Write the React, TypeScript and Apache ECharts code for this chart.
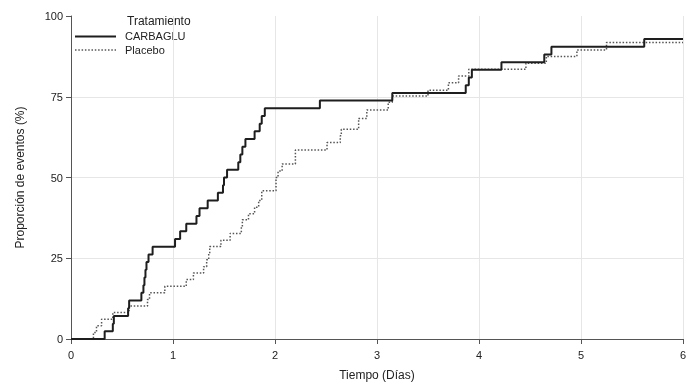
import React, { useEffect, useRef } from "react";
import * as echarts from "echarts";

const carbagluTimes = [0, 0.33, 0.41, 0.42, 0.56, 0.57, 0.69, 0.71, 0.72, 0.73, 0.74, 0.76, 0.8, 1.02, 1.07, 1.13, 1.23, 1.26, 1.34, 1.44, 1.49, 1.5, 1.53, 1.64, 1.66, 1.68, 1.71, 1.8, 1.85, 1.87, 1.9, 2.44, 3.15, 3.87, 3.9, 3.93, 4.22, 4.64, 4.71, 5.62, 6.0];
const carbagluValues = [0, 2.38, 4.76, 7.14, 9.52, 11.9, 14.29, 16.67, 19.05, 21.43, 23.81, 26.19, 28.57, 30.95, 33.33, 35.71, 38.1, 40.48, 42.86, 45.24, 47.62, 50.0, 52.38, 54.76, 57.14, 59.52, 61.9, 64.29, 66.67, 69.05, 71.43, 73.81, 76.19, 78.57, 80.95, 83.33, 85.71, 88.1, 90.48, 92.86, 92.86];

const placeboTimes = [0, 0.22, 0.25, 0.3, 0.41, 0.57, 0.75, 0.77, 0.92, 1.13, 1.2, 1.3, 1.33, 1.35, 1.36, 1.47, 1.56, 1.67, 1.68, 1.74, 1.8, 1.84, 1.87, 2.01, 2.03, 2.07, 2.2, 2.51, 2.64, 2.65, 2.82, 2.9, 3.11, 3.15, 3.5, 3.7, 3.8, 3.9, 4.46, 4.66, 4.96, 5.25, 6.0];
const placeboValues = [0, 2.0, 4.1, 6.1, 8.2, 10.2, 12.2, 14.3, 16.3, 18.4, 20.4, 22.4, 24.5, 26.5, 28.6, 30.6, 32.7, 34.7, 36.9, 38.8, 40.8, 42.9, 45.9, 50.0, 52.0, 54.2, 58.5, 60.8, 62.9, 64.9, 68.3, 70.9, 73.3, 75.2, 77.0, 79.3, 81.4, 83.5, 85.4, 87.5, 89.5, 91.8, 91.8];

const xTicks = [0, 1, 2, 3, 4, 5, 6];
const yTicks = [0, 25, 50, 75, 100];

const seriesNames = ["CARBAGLU", "Placebo"];
const legendTitle = "Tratamiento";
const xAxisName = "Tiempo (Días)";
const yAxisName = "Proporción de eventos (%)";

const FONT = "Liberation Sans, Arial, sans-serif";
const SOLID_COLOR = "#1e1e1e";
const DOT_COLOR = "#555";
const DOT_DASH = [1.5, 1.8];

export default function App() {
  const ref = useRef<HTMLDivElement>(null);
  useEffect(() => {
    if (!ref.current) return;
    const chart = echarts.init(ref.current, null, { renderer: "svg" });
    const toPairs = (t: number[], v: number[]) => t.map((x, i) => [x, v[i]]);
    chart.setOption({
      animation: false,
      textStyle: { fontFamily: FONT },
      graphic: [
        {
          type: "text",
          left: 127,
          top: 15,
          style: { text: legendTitle, font: `12px ${FONT}`, fill: "#222" },
        },
        {
          type: "line",
          shape: { x1: 75, y1: 36.5, x2: 116, y2: 36.5 },
          style: { stroke: SOLID_COLOR, lineWidth: 2 },
        },
        {
          type: "text",
          left: 125,
          top: 30,
          style: { text: seriesNames[0], font: `11px ${FONT}`, fill: "#222" },
        },
        {
          type: "line",
          shape: { x1: 75, y1: 50, x2: 116, y2: 50 },
          style: { stroke: DOT_COLOR, lineWidth: 1.5, lineDash: DOT_DASH },
        },
        {
          type: "text",
          left: 125,
          top: 44,
          style: { text: seriesNames[1], font: `11px ${FONT}`, fill: "#222" },
        },
      ],
      grid: { left: 71, right: 13, top: 16, bottom: 42 },
      xAxis: {
        type: "value",
        min: xTicks[0],
        max: xTicks[xTicks.length - 1],
        interval: 1,
        name: xAxisName,
        nameLocation: "middle",
        nameGap: 30,
        nameTextStyle: { fontFamily: FONT, fontSize: 12, color: "#222" },
        axisLine: { lineStyle: { color: "#555", width: 1 } },
        axisTick: { show: true, length: 5, lineStyle: { color: "#555" } },
        axisLabel: { fontFamily: FONT, fontSize: 11, color: "#222", margin: 10 },
        splitLine: { show: true, lineStyle: { color: "#e6e6e6", width: 1 } },
      },
      yAxis: {
        type: "value",
        min: yTicks[0],
        max: yTicks[yTicks.length - 1],
        interval: 25,
        name: yAxisName,
        nameLocation: "middle",
        nameGap: 45,
        nameTextStyle: { fontFamily: FONT, fontSize: 12, color: "#222" },
        axisLine: { show: true, lineStyle: { color: "#555", width: 1 } },
        axisTick: { show: true, length: 5, lineStyle: { color: "#555" } },
        axisLabel: { fontFamily: FONT, fontSize: 11, color: "#222", margin: 8 },
        splitLine: { show: true, showMaxLine: false, lineStyle: { color: "#e6e6e6", width: 1 } },
      },
      series: [
        {
          name: seriesNames[0],
          type: "line",
          step: "end",
          symbol: "none",
          data: toPairs(carbagluTimes, carbagluValues),
          lineStyle: { color: SOLID_COLOR, width: 2, type: "solid" },
          itemStyle: { color: SOLID_COLOR },
          z: 3,
        },
        {
          name: seriesNames[1],
          type: "line",
          step: "end",
          symbol: "none",
          data: toPairs(placeboTimes, placeboValues),
          lineStyle: { color: DOT_COLOR, width: 1.5, type: DOT_DASH },
          itemStyle: { color: DOT_COLOR },
          z: 2,
        },
      ],
    });
    return () => chart.dispose();
  }, []);
  return (
    <div
      ref={ref}
      style={{ position: "fixed", left: 0, top: 0, width: 696, height: 386 }}
    />
  );
}
